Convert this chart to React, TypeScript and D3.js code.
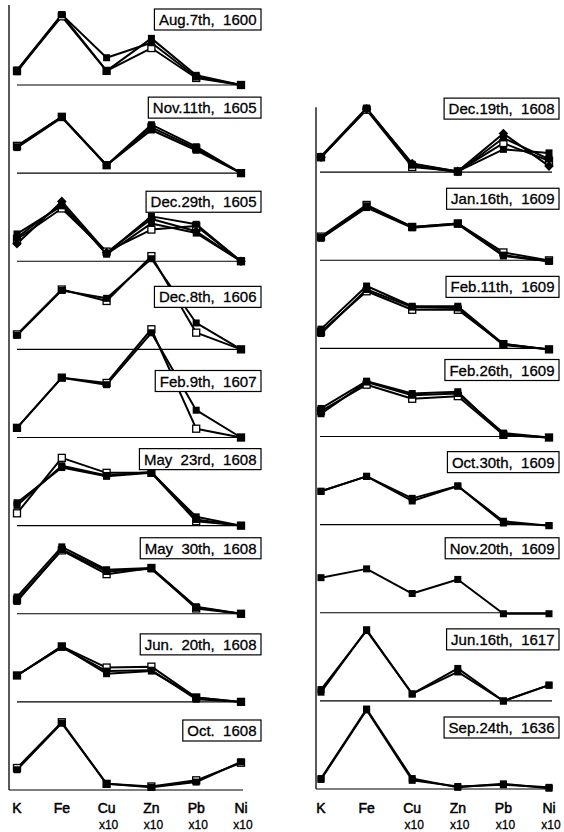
import React from "react";
import * as d3 from "d3";

const width = 564;
const height = 832;
const font = "Liberation Sans, Arial, Helvetica, sans-serif";

// elements on the x axis
const elements = ["K", "Fe", "Cu", "Zn", "Pb", "Ni"];
const factors = ["", "", "x10", "x10", "x10", "x10"];

type Mark = "filled" | "open" | "diamond";
type Series = { mark: Mark; v: number[] };

// left column, top to bottom (relative concentration, 0..100 per panel)
const aug1600: Series[] = [
  { mark: "filled", v: [15, 80, 31, 48, 9, 0] },
  { mark: "filled", v: [17, 80, 16, 53, 11, 0] },
  { mark: "open", v: [16, 78, 16, 42, 8, 0] },
];
const nov1605: Series[] = [
  { mark: "filled", v: [30, 64, 9, 55, 30, 0] },
  { mark: "filled", v: [29, 63, 9, 49, 26, 0] },
  { mark: "open", v: [31, 64, 9, 52, 28, 0] },
];
const dec1605: Series[] = [
  { mark: "filled", v: [31, 63, 9, 51, 42, 0] },
  { mark: "diamond", v: [20, 68, 10, 48, 34, 0] },
  { mark: "filled", v: [27, 65, 8, 43, 32, 0] },
  { mark: "open", v: [25, 60, 11, 36, 40, 0] },
];
const dec1606: Series[] = [
  { mark: "filled", v: [16, 67, 58, 103, 30, 0] },
  { mark: "open", v: [17, 68, 55, 106, 19, 0] },
];
const feb1607: Series[] = [
  { mark: "filled", v: [11, 68, 60, 119, 31, 0] },
  { mark: "open", v: [11, 68, 62, 123, 10, 0] },
];
const may23_1608: Series[] = [
  { mark: "filled", v: [26, 66, 56, 60, 10, 0] },
  { mark: "filled", v: [23, 68, 57, 61, 7, 0] },
  { mark: "open", v: [14, 77, 60, 60, 5, 0] },
];
const may30_1608: Series[] = [
  { mark: "filled", v: [19, 76, 50, 52, 8, 0] },
  { mark: "filled", v: [14, 73, 48, 51, 7, 0] },
  { mark: "open", v: [16, 72, 45, 52, 6, 0] },
];
const jun1608: Series[] = [
  { mark: "filled", v: [30, 63, 32, 35, 5, 0] },
  { mark: "filled", v: [30, 62, 35, 36, 3, 0] },
  { mark: "open", v: [30, 63, 39, 40, 5, 0] },
];
const oct1608: Series[] = [
  { mark: "filled", v: [23, 76, 7, 3, 9, 32] },
  { mark: "open", v: [25, 77, 7, 4, 11, 31] },
];

// right column, top to bottom
const dec1608: Series[] = [
  { mark: "diamond", v: [18, 73, 11, 2, 45, 8] },
  { mark: "filled", v: [18, 73, 10, 2, 27, 23] },
  { mark: "filled", v: [19, 74, 9, 1, 40, 16] },
  { mark: "open", v: [18, 72, 7, 2, 34, 14] },
];
const jan1609: Series[] = [
  { mark: "filled", v: [27, 63, 39, 43, 7, 0] },
  { mark: "filled", v: [26, 61, 38, 42, 6, 0] },
  { mark: "open", v: [28, 64, 39, 43, 10, 1] },
];
const feb11_1609: Series[] = [
  { mark: "filled", v: [23, 72, 49, 49, 6, 0] },
  { mark: "filled", v: [18, 68, 48, 47, 5, 0] },
  { mark: "open", v: [20, 66, 45, 45, 6, 0] },
];
const feb26_1609: Series[] = [
  { mark: "filled", v: [33, 64, 50, 52, 3, 0] },
  { mark: "filled", v: [27, 63, 48, 50, 5, 0] },
  { mark: "open", v: [30, 60, 44, 47, 3, 0] },
];
const oct1609: Series[] = [
  { mark: "filled", v: [39, 56, 28, 45, 3, 0] },
  { mark: "filled", v: [39, 56, 31, 45, 5, 0] },
];
const nov1609: Series[] = [{ mark: "filled", v: [41, 51, 23, 39, 0, 0] }];
const jun1617: Series[] = [
  { mark: "filled", v: [11, 82, 9, 38, 1, 19] },
  { mark: "filled", v: [14, 81, 9, 34, 1, 19] },
];
const sep1636: Series[] = [
  { mark: "filled", v: [13, 92, 13, 3, 7, 2] },
  { mark: "filled", v: [12, 91, 11, 4, 6, 3] },
];

const leftDates = [
  "Aug.7th,  1600", "Nov.11th,  1605", "Dec.29th,  1605", "Dec.8th,  1606",
  "Feb.9th,  1607", "May  23rd,  1608", "May  30th,  1608", "Jun.  20th,  1608",
  "Oct.  1608",
];
const rightDates = [
  "Dec.19th,  1608", "Jan.16th,  1609", "Feb.11th,  1609", "Feb.26th,  1609",
  "Oct.30th,  1609", "Nov.20th,  1609", "Jun.16th,  1617", "Sep.24th,  1636",
];
const leftData = [aug1600, nov1605, dec1605, dec1606, feb1607, may23_1608, may30_1608, jun1608, oct1608];
const rightData = [dec1608, jan1609, feb11_1609, feb26_1609, oct1609, nov1609, jun1617, sep1636];

// layout: how far above the panel baseline each date box starts
const leftBoxTop = [76, 76, 70, 63, 67, 77, 76, 68, 70];
const rightBoxTop = [75, 73, 73, 78, 74, 76, 73, 73];

const row = d3.scaleLinear().domain([0, 8]).range([85, 790]);
const xLeft = d3.scalePoint<string>().domain(elements).range([17, 241]);
const xRight = d3.scalePoint<string>().domain(elements).range([321, 549]);

let ctx: CanvasRenderingContext2D | null = null;
function textWidth(s: string) {
  if (!ctx) ctx = document.createElement("canvas").getContext("2d");
  if (!ctx) return s.length * 7.5;
  ctx.font = `15px ${font}`;
  return ctx.measureText(s).width;
}

function Marker({ x, y, mark }: { x: number; y: number; mark: Mark }) {
  const s = 7;
  if (mark === "diamond")
    return (
      <rect x={x - 3.4} y={y - 3.4} width={6.8} height={6.8} fill="#000"
        transform={`rotate(45 ${x} ${y})`} />
    );
  return (
    <rect x={x - s / 2} y={y - s / 2} width={s} height={s}
      fill={mark === "open" ? "#fff" : "#000"} stroke="#000"
      strokeWidth={mark === "open" ? 1.3 : 0} />
  );
}

function Panel({ data, r, x }: { data: Series[]; r: number; x: d3.ScalePoint<string> }) {
  const base = row(r);
  const y = d3.scaleLinear().domain([0, 100]).range([base, base - 88]);
  const line = d3.line<number>()
    .x((_, i) => x(elements[i]) as number)
    .y(d => y(d));
  // open markers go under the filled ones
  const order = [...data].sort((a, b) => (a.mark === "open" ? 0 : 1) - (b.mark === "open" ? 0 : 1));
  return (
    <g>
      {data.map((s, i) => (
        <path key={"l" + i} d={line(s.v) || ""} fill="none" stroke="#000"
          strokeWidth={2} strokeLinejoin="round" />
      ))}
      {order.map((s, i) => (
        <g key={"m" + i}>
          {s.v.map((d, j) => (
            <Marker key={j} x={x(elements[j]) as number} y={y(d)} mark={s.mark} />
          ))}
        </g>
      ))}
    </g>
  );
}

function DateBox({ label, right, top }: { label: string; right: number; top: number }) {
  const w = textWidth(label) + 9;
  return (
    <g>
      <rect x={right - w} y={top} width={w} height={21} fill="#fff" stroke="#000" strokeWidth={1.2} />
      <text x={right - 4.5} y={top + 16} textAnchor="end" fontSize={15} fontFamily={font}
        fill="#000" stroke="#000" strokeWidth={0.3} style={{ whiteSpace: "pre" }}>
        {label}
      </text>
    </g>
  );
}

export default function App() {
  const last = row(8);
  return (
    <svg width={width} height={height} style={{ position: "absolute", left: 0, top: 0, background: "#fff" }}>
      {/* axes */}
      <line x1={9} x2={9} y1={5} y2={last} stroke="#000" strokeWidth={1.3} />
      <line x1={316} x2={316} y1={row(1) - 66} y2={last - 1} stroke="#000" strokeWidth={1.3} />
      {/* baselines */}
      {leftData.map((_, i) => (
        <line key={"bl" + i} x1={i === 8 ? 9 : 17} x2={243} y1={row(i)} y2={row(i)}
          stroke="#000" strokeWidth={1.2} />
      ))}
      {rightData.map((_, i) => (
        <line key={"br" + i} x1={i === 7 ? 316 : 320} x2={552} y1={row(i + 1) - 1} y2={row(i + 1) - 1}
          stroke="#000" strokeWidth={1.2} />
      ))}
      <line x1={552} x2={552} y1={last - 1} y2={last - 5} stroke="#000" strokeWidth={1.2} />
      {/* series */}
      {leftData.map((d, i) => <Panel key={"pl" + i} data={d} r={i} x={xLeft} />)}
      {rightData.map((d, i) => <Panel key={"pr" + i} data={d} r={i + 1} x={xRight} />)}
      {/* date boxes */}
      {leftDates.map((t, i) => (
        <DateBox key={"dl" + i} label={t} right={261} top={row(i) - leftBoxTop[i]} />
      ))}
      {rightDates.map((t, i) => (
        <DateBox key={"dr" + i} label={t} right={559} top={row(i + 1) - rightBoxTop[i]} />
      ))}
      {/* x labels */}
      {[xLeft, xRight].map((x, k) => (
        <g key={"ax" + k} fontFamily={font} fill="#000" textAnchor="middle">
          {elements.map((e, j) => (
            <g key={e}>
              <text x={x(e)} y={813} fontSize={14} stroke="#000" strokeWidth={0.5}>{e}</text>
              {factors[j] && (
                <text x={(x(e) as number) + 2} y={829} fontSize={12} stroke="#000" strokeWidth={0.3}>
                  {factors[j]}
                </text>
              )}
            </g>
          ))}
        </g>
      ))}
    </svg>
  );
}
